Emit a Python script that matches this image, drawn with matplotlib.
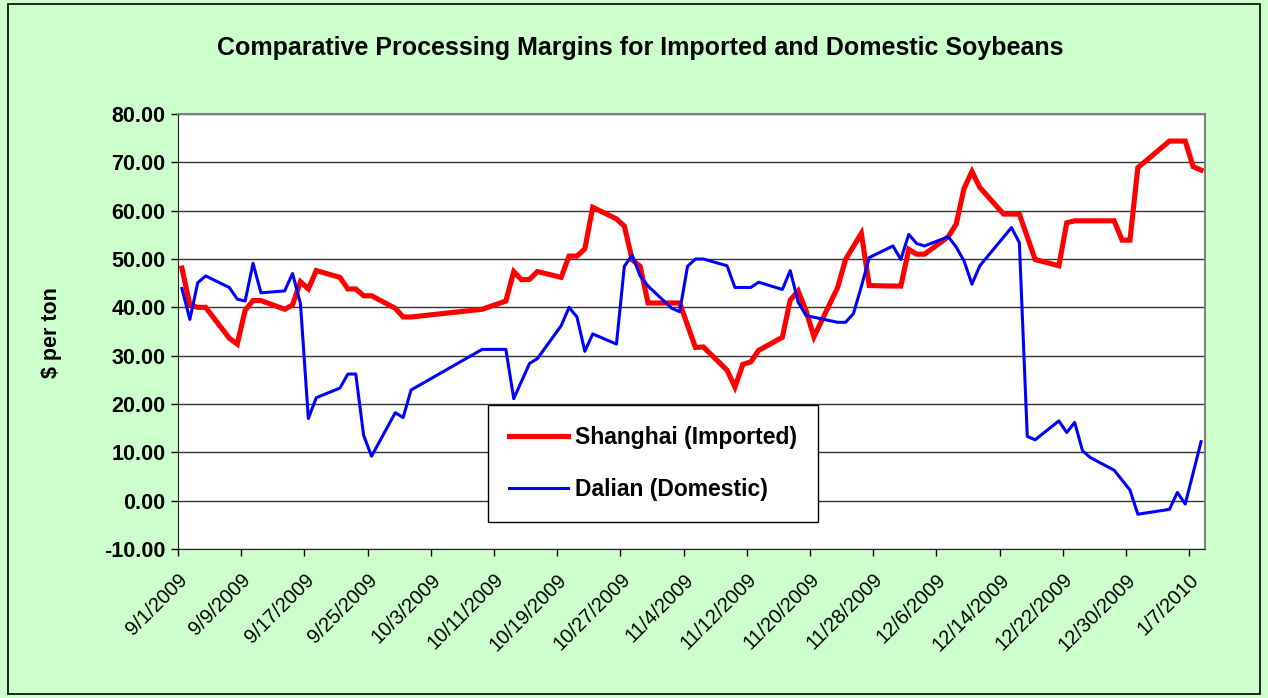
import numpy as np
import pandas as pd
import matplotlib
matplotlib.use("Agg")
import matplotlib.pyplot as plt
from matplotlib.patches import Rectangle

plt.rcParams['font.family'] = ['Liberation Sans', 'DejaVu Sans']

# data ($ per ton)
sh_dates = ["2009-09-01", "2009-09-02", "2009-09-03", "2009-09-04", "2009-09-07", "2009-09-08",
            "2009-09-09", "2009-09-10", "2009-09-11", "2009-09-14", "2009-09-15", "2009-09-16",
            "2009-09-17", "2009-09-18", "2009-09-21", "2009-09-22", "2009-09-23", "2009-09-24",
            "2009-09-25", "2009-09-28", "2009-09-29", "2009-09-30",
            "2009-10-09", "2009-10-12", "2009-10-13", "2009-10-14", "2009-10-15", "2009-10-16",
            "2009-10-19", "2009-10-20", "2009-10-21", "2009-10-22", "2009-10-23", "2009-10-26",
            "2009-10-27", "2009-10-28", "2009-10-29", "2009-10-30",
            "2009-11-02", "2009-11-03", "2009-11-05", "2009-11-06", "2009-11-09", "2009-11-10",
            "2009-11-11", "2009-11-12", "2009-11-13", "2009-11-16", "2009-11-17", "2009-11-18",
            "2009-11-19", "2009-11-20", "2009-11-23", "2009-11-24", "2009-11-26", "2009-11-27",
            "2009-11-30",
            "2009-12-01", "2009-12-02", "2009-12-03", "2009-12-04", "2009-12-07", "2009-12-08",
            "2009-12-09", "2009-12-10", "2009-12-11", "2009-12-14", "2009-12-15", "2009-12-16",
            "2009-12-18", "2009-12-21", "2009-12-22", "2009-12-23", "2009-12-24", "2009-12-25",
            "2009-12-28", "2009-12-29", "2009-12-30", "2009-12-31",
            "2010-01-04", "2010-01-05", "2010-01-06", "2010-01-07", "2010-01-08"]
shanghai = [48.1, 40.5, 40.0, 40.0, 33.6, 32.4,
            39.4, 41.4, 41.4, 39.6, 40.5, 45.3,
            43.8, 47.6, 46.2, 43.8, 43.8, 42.4,
            42.4, 39.8, 38.0, 38.0,
            39.6, 41.3, 47.4, 45.7, 45.8, 47.4,
            46.2, 50.6, 50.6, 52.1, 60.7, 58.3,
            56.8, 49.8, 48.5, 40.9,
            40.9, 40.9, 31.7, 31.8, 27.0, 23.5,
            28.2, 28.7, 31.1, 33.8, 41.5, 43.4,
            39.3, 33.9, 44.1, 49.9, 55.3, 44.5,
            44.4,
            44.4, 52.0, 51.0, 51.0, 54.6, 57.2,
            64.6, 68.1, 64.8, 59.3, 59.3, 59.3,
            49.9, 48.6, 57.5, 57.9, 57.9, 57.9,
            57.9, 53.9, 53.9, 68.9,
            74.4, 74.4, 74.4, 69.1, 68.4]

dl_dates = ["2009-09-01", "2009-09-02", "2009-09-03", "2009-09-04", "2009-09-07", "2009-09-08",
            "2009-09-09", "2009-09-10", "2009-09-11", "2009-09-14", "2009-09-15", "2009-09-16",
            "2009-09-17", "2009-09-18", "2009-09-21", "2009-09-22", "2009-09-23", "2009-09-24",
            "2009-09-25", "2009-09-28", "2009-09-29", "2009-09-30",
            "2009-10-09", "2009-10-12", "2009-10-13", "2009-10-15", "2009-10-16", "2009-10-19",
            "2009-10-20", "2009-10-21", "2009-10-22", "2009-10-23", "2009-10-26", "2009-10-27",
            "2009-10-28", "2009-10-29", "2009-10-30",
            "2009-11-02", "2009-11-03", "2009-11-04", "2009-11-05", "2009-11-06", "2009-11-09",
            "2009-11-10", "2009-11-11", "2009-11-12", "2009-11-13", "2009-11-16", "2009-11-17",
            "2009-11-18", "2009-11-19", "2009-11-23", "2009-11-24", "2009-11-25", "2009-11-26",
            "2009-11-27", "2009-11-30",
            "2009-12-01", "2009-12-02", "2009-12-03", "2009-12-04", "2009-12-07", "2009-12-08",
            "2009-12-09", "2009-12-10", "2009-12-11", "2009-12-15", "2009-12-16", "2009-12-17",
            "2009-12-18", "2009-12-21", "2009-12-22", "2009-12-23", "2009-12-24", "2009-12-25",
            "2009-12-28", "2009-12-30", "2009-12-31",
            "2010-01-04", "2010-01-05", "2010-01-06", "2010-01-08"]
dalian = [43.9, 37.5, 45.1, 46.5, 44.1, 41.7,
          41.3, 49.1, 43.0, 43.4, 47.0, 40.8,
          17.0, 21.3, 23.3, 26.2, 26.2, 13.5,
          9.2, 18.2, 17.2, 22.9,
          31.3, 31.3, 21.1, 28.4, 29.4, 36.2,
          40.0, 38.0, 30.9, 34.5, 32.4, 48.5,
          50.8, 46.5, 44.4,
          39.8, 39.1, 48.5, 50.0, 50.0, 48.6,
          44.1, 44.1, 44.1, 45.2, 43.7, 47.6,
          41.1, 38.3, 36.9, 36.9, 38.7, 44.3,
          50.3, 52.7,
          49.9, 55.1, 53.2, 52.7, 54.6, 52.5,
          49.6, 44.8, 48.6, 56.5, 53.4, 13.3,
          12.6, 16.5, 14.1, 16.2, 10.3, 8.9,
          6.3, 2.2, -2.8,
          -1.8, 1.7, -0.7, 12.2]

start = pd.Timestamp("2009-09-01")
end = pd.Timestamp("2010-01-08")
sh_x = (pd.to_datetime(sh_dates) - start).days.values
dl_x = (pd.to_datetime(dl_dates) - start).days.values

fig = plt.figure(figsize=(12.68, 6.98), dpi=100, facecolor='#CCFFCC')
fig.patches.append(Rectangle((8/1268, 4/698), 1252/1268, 690/698, transform=fig.transFigure,
                             fill=False, ec='black', lw=1.2))

ax = fig.add_axes([178/1268, 149/698, 1027/1268, 435/698])
ax.set_facecolor('white')

ax.plot(sh_x, shanghai, color='#FF0000', lw=3.7, label='Shanghai (Imported)', solid_joinstyle='miter')
ax.plot(dl_x, dalian, color='#0000FF', lw=2.2, label='Dalian (Domestic)')

ndays = (end - start).days
ax.set_xlim(-0.5, ndays + 0.5)
ax.set_ylim(-10, 80)

yt = np.arange(-10, 81, 10)
ax.set_yticks(yt)
ax.set_yticklabels(['%.2f' % v for v in yt], fontsize=15.5, fontweight='bold')
ax.yaxis.grid(True, color='#333333', lw=1)
ax.set_axisbelow(True)

tick_days = np.arange(0, ndays, 8)
tick_labels = []
for d in tick_days:
    t = start + pd.Timedelta(days=int(d))
    tick_labels.append('%d/%d/%d' % (t.month, t.day, t.year))
ax.set_xticks(tick_days - 0.5)
ax.set_xticklabels(tick_labels, rotation=45, ha='right', rotation_mode='anchor', fontsize=14.5)
ax.tick_params(axis='x', length=5, width=1, pad=10)
ax.tick_params(axis='y', length=5, width=1, pad=4)

for s in ['top', 'right']:
    ax.spines[s].set_color('#808080')
    ax.spines[s].set_linewidth(1.5)
ax.spines['left'].set_color('#222222')
ax.spines['bottom'].set_color('#222222')

fig.text(640/1268, 1 - 48/698, 'Comparative Processing Margins for Imported and Domestic Soybeans',
         ha='center', va='center', fontsize=18, fontweight='bold')
fig.text(52/1268, 1 - 333/698, r'\$ per ton', rotation=90, ha='center', va='center',
         fontsize=15.5, fontweight='bold')

leg = ax.legend(loc='upper left', bbox_to_anchor=((488 - 178)/1027, (549 - 405)/435),
                borderaxespad=0, frameon=True, fancybox=False, shadow=False,
                prop={'size': 16.5, 'weight': 'bold'}, handlelength=2.6, handletextpad=0.3,
                labelspacing=1.3, borderpad=0.9)
leg.get_frame().set_edgecolor('black')
leg.get_frame().set_linewidth(1.0)
leg.get_frame().set_facecolor('white')
leg.get_frame().set_alpha(1)

fig.savefig('out.png', dpi=100, facecolor=fig.get_facecolor())
